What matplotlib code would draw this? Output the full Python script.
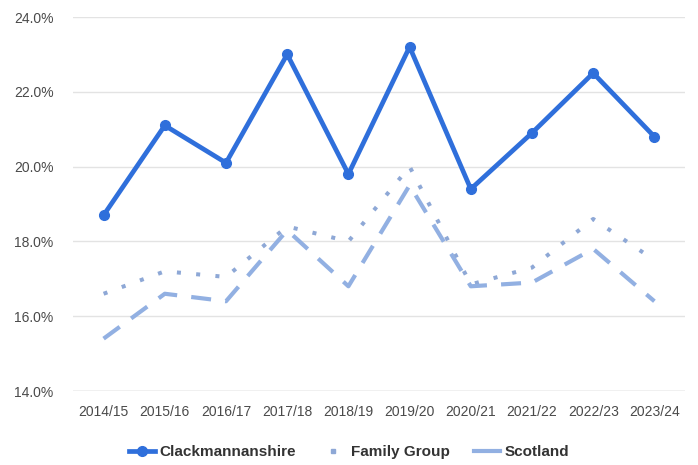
import matplotlib
matplotlib.use("Agg")
import matplotlib.pyplot as plt
from matplotlib.lines import Line2D

years = ["2014/15", "2015/16", "2016/17", "2017/18", "2018/19",
         "2019/20", "2020/21", "2021/22", "2022/23", "2023/24"]
clackmannanshire = [18.7, 21.1, 20.1, 23.0, 19.8, 23.2, 19.4, 20.9, 22.5, 20.8]
family_group = [16.6, 17.2, 17.05, 18.4, 18.0, 20.0, 16.85, 17.3, 18.6, 17.5]
scotland = [15.4, 16.6, 16.4, 18.3, 16.8, 19.5, 16.8, 16.9, 17.8, 16.4]
y_ticks = [14, 16, 18, 20, 22, 24]

plt.rcParams['font.family'] = ['Liberation Sans', 'DejaVu Sans']

fig = plt.figure(figsize=(6.98, 4.65), dpi=100)
ax = fig.add_axes([73/698, 1-391/465, (685-73)/698, (391-17)/465])

x = list(range(len(years)))
dark = "#2f6fdb"
light = "#92b0e2"
fg_col = "#8ea8d6"

ax.plot(x, family_group, color=fg_col, lw=2.9, linestyle=(0, (1, 3.8)),
        dash_capstyle='butt', zorder=3)
ax.plot(x, scotland, color=light, lw=3, linestyle=(0, (4.8, 3.4)),
        dash_capstyle='butt', zorder=3)
ax.plot(x, clackmannanshire, color=dark, lw=3.4, marker='o', markersize=7,
        zorder=4, solid_joinstyle='round', solid_capstyle='round')

ax.set_xlim(-0.5, 9.5)
ax.set_ylim(14, 24)
ax.set_yticks(y_ticks)
ax.set_yticklabels([f"{v:.1f}%" for v in y_ticks])
ax.set_xticks(x)
ax.set_xticklabels(years)
for s in ax.spines.values():
    s.set_visible(False)
ax.grid(axis='y', color="#e3e3e3", lw=1)
ax.axhline(14, color="#cccccc", lw=1, zorder=1)
ax.set_axisbelow(True)
ax.tick_params(axis='both', length=0, labelsize=10, colors="#4a4a4a")
ax.tick_params(axis='y', pad=14)
ax.tick_params(axis='x', pad=10)

handles = [
    Line2D([], [], color=dark, lw=3.4, marker='o', markersize=7),
    Line2D([], [], color=fg_col, lw=0, marker='s', markersize=3.2),
    Line2D([], [], color=light, lw=3),
]
leg = fig.legend(handles, ["Clackmannanshire", "Family Group", "Scotland"],
                 loc='center', bbox_to_anchor=(0.5, 1-452/465), ncol=3,
                 frameon=False, handlelength=1.7, handletextpad=0.3,
                 columnspacing=1.6,
                 prop={'size': 11, 'weight': 'bold'})
for t in leg.get_texts():
    t.set_color("#333333")

fig.savefig("out.png", dpi=100)
